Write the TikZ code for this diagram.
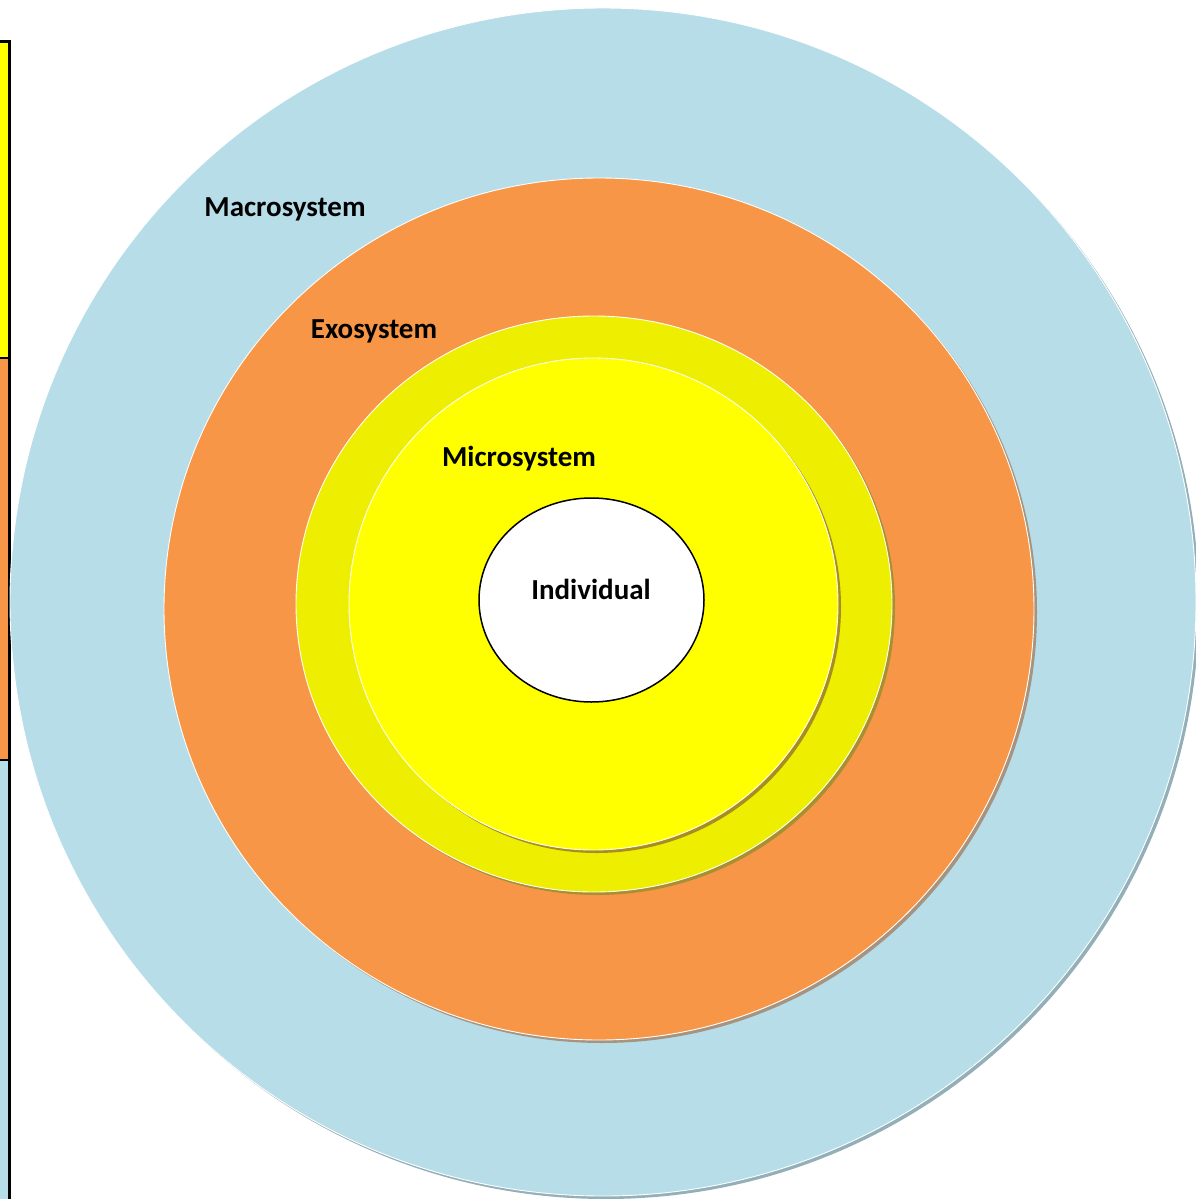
\documentclass[tikz,border=0pt]{standalone}
\usepackage{fontspec}
\setmainfont{Carlito}
\definecolor{macro}{HTML}{B7DDE8}
\definecolor{macroS}{HTML}{93AFB8}
\definecolor{exo}{HTML}{F79646}
\definecolor{exoS}{HTML}{A69480}
\definecolor{meso}{HTML}{EEEE00}
\definecolor{mesoS}{HTML}{A89030}
\definecolor{micro}{HTML}{FFFF00}
\definecolor{microS}{HTML}{A88E20}
\tikzset{
  lbl/.style={font=\fontsize{29}{32}\selectfont\bfseries, text=black, inner sep=0pt},
  ring/.style={draw=white, line width=0.9pt},
}
\begin{document}
\begin{tikzpicture}[x=1pt,y=-1pt]
\useasboundingbox (0,0) rectangle (1196,1199);
\begin{scope}
\clip (0,0) rectangle (1196,1199);
% left strip
\fill[micro] (-5,42) rectangle (9.5,358);
\fill[exo] (-5,358) rectangle (9.5,760);
\fill[macro] (-5,760) rectangle (9.5,1210);
\draw[line width=2pt] (-5,358) -- (9.5,358);
\draw[line width=2pt] (-5,760) -- (9.5,760);
\draw[line width=3pt] (-5,42) -- (9.5,42) -- (9.5,1210);
% macrosystem
\fill[macroS] (606,605) ellipse [x radius=593, y radius=594];
\fill[macro] (603,602) ellipse [x radius=593, y radius=594];
\draw[ring] (603,602) ellipse [x radius=593, y radius=594];
% exosystem
\fill[exoS] (602,612) ellipse [x radius=435, y radius=431];
\fill[exo] (599,609) ellipse [x radius=435, y radius=431];
\draw[ring] (599,609) ellipse [x radius=435, y radius=431];
% mesosystem band
\fill[mesoS] (597,607) ellipse [x radius=298, y radius=288];
\fill[meso] (594,604) ellipse [x radius=298, y radius=288];
\draw[ring] (594,604) ellipse [x radius=298, y radius=288];
% microsystem
\fill[microS] (596.5,607) ellipse [x radius=244.5, y radius=246];
\fill[micro] (593.5,604) ellipse [x radius=244.5, y radius=246];
\draw[ring] (593.5,604) ellipse [x radius=244.5, y radius=246];
% individual
\draw[fill=white, line width=1.5pt] (591.5,600) ellipse [x radius=112.5, y radius=102];
\end{scope}
\node[lbl] (macroL) at (285,209) {Macrosystem};
\node[lbl] (exoL) at (374,331) {Exosystem};
\node[lbl] (microL) at (519,459) {Microsystem};
\node[lbl] (indL) at (591,589) {Individual};
\end{tikzpicture}
\end{document}
